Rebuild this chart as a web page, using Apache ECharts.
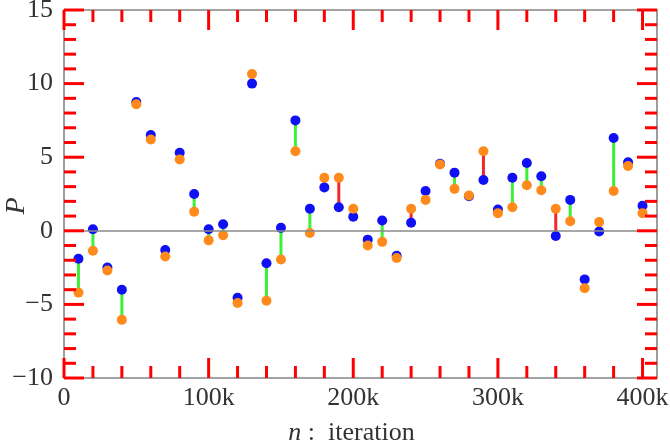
<!DOCTYPE html>
<html>
<head>
<meta charset="utf-8">
<script src="https://cdn.jsdelivr.net/npm/echarts@6/dist/echarts.min.js"></script>
<style>
html,body{margin:0;padding:0;background:#fff;}
#chart{width:670px;height:444px;}
</style>
</head>
<body>
<div id="chart"></div>
<script>
// iterations (x)
const iterations = [10000,20000,30000,40000,50000,60000,70000,80000,90000,100000,
  110000,120000,130000,140000,150000,160000,170000,180000,190000,200000,
  210000,220000,230000,240000,250000,260000,270000,280000,290000,300000,
  310000,320000,330000,340000,350000,360000,370000,380000,390000,400000];
// blue series P values
const blueP = [-1.9,0.1,-2.5,-4.0,8.75,6.5,-1.3,5.3,2.5,0.1,
  0.45,-4.55,10.0,-2.2,0.2,7.5,1.5,2.95,1.6,0.95,
  -0.6,0.7,-1.7,0.55,2.7,4.55,3.95,2.35,3.45,1.45,
  3.6,4.6,3.7,-0.35,2.1,-3.3,-0.05,6.3,4.65,1.7];
// orange series P values
const orangeP = [-4.2,-1.35,-2.7,-6.05,8.6,6.2,-1.75,4.85,1.3,-0.65,
  -0.3,-4.9,10.65,-4.75,-1.95,5.4,-0.15,3.6,3.6,1.5,
  -1.0,-0.75,-1.85,1.5,2.1,4.5,2.85,2.4,5.4,1.2,
  1.6,3.1,2.75,1.5,0.65,-3.9,0.6,2.7,4.4,1.2];
// tick positions
const xMajorTicks = [0,100000,200000,300000,400000];
const xMinorTicks = [20000,40000,60000,80000,120000,140000,160000,180000,
  220000,240000,260000,280000,320000,340000,360000,380000];
const yMajorTicks = [-10,-5,0,5,10,15];
const yMinorTicks = [-9,-8,-7,-6,-4,-3,-2,-1,1,2,3,4,6,7,8,9,11,12,13,14];
const xMax = 410000, xInterval = 100000;
const yMin = -10, yMax = 15, yInterval = 5;

const frameColor = '#858585';
const tickColor = '#ff0000';
const labelFont = 'Liberation Serif';
const labelColor = '#333';
const MAJOR_LEN = 20, MINOR_LEN = 12, TICK_W = 3;

const blueData = iterations.map((x,i)=>[x, blueP[i]]);
const orangeData = iterations.map((x,i)=>[x, orangeP[i]]);
const pairData = iterations.map((x,i)=>[x, blueP[i], orangeP[i]]);

function tickSeries(values, side, len) {
  let data, size, offset;
  if (side === 'bottom') { data = values.map(v=>[v, yMin]); size = [TICK_W, len]; offset = [0, -len/2]; }
  else if (side === 'top') { data = values.map(v=>[v, yMax]); size = [TICK_W, len]; offset = [0, len/2]; }
  else if (side === 'left') { data = values.map(v=>[0, v]); size = [len, TICK_W]; offset = [len/2, 0]; }
  else { data = values.map(v=>[xMax, v]); size = [len, TICK_W]; offset = [-len/2, 0]; }
  return {type:'scatter', data:data, symbol:'rect', symbolSize:size, symbolOffset:offset,
    clip:false, silent:true, z:5, itemStyle:{color:tickColor, opacity:1}};
}
const tickSeriesList = [];
['bottom','top'].forEach(s=>{ tickSeriesList.push(tickSeries(xMajorTicks, s, MAJOR_LEN)); tickSeriesList.push(tickSeries(xMinorTicks, s, MINOR_LEN)); });
['left','right'].forEach(s=>{ tickSeriesList.push(tickSeries(yMajorTicks, s, MAJOR_LEN)); tickSeriesList.push(tickSeries(yMinorTicks, s, MINOR_LEN)); });

const chart = echarts.init(document.getElementById('chart'));
chart.setOption({
  animation:false,
  grid:{left:64, right:13, top:10, bottom:66, containLabel:false, outerBoundsMode:'none',
    show:true, borderColor:frameColor, borderWidth:1.6, backgroundColor:'transparent'},
  xAxis:{
    type:'value', min:0, max:xMax, interval:xInterval,
    axisLine:{show:false, onZero:false}, axisTick:{show:false},
    axisLabel:{show:true, margin:7, color:labelColor, fontFamily:labelFont, fontSize:26,
      formatter:function(v){ if (v % xInterval !== 0) return ''; return v===0 ? '0' : (v/1000)+'k'; }},
    splitLine:{show:false},
    name:'{i|n} :  iteration',
    nameLocation:'middle', nameGap:42, nameMoveOverlap:false,
    nameTextStyle:{color:labelColor, fontFamily:labelFont, fontSize:26, padding:[0,18,0,0],
      rich:{i:{fontFamily:labelFont, fontStyle:'italic', fontSize:26, color:labelColor}}}
  },
  yAxis:{
    type:'value', min:yMin, max:yMax, interval:yInterval,
    axisLine:{show:false, onZero:false}, axisTick:{show:false},
    axisLabel:{show:true, margin:11, color:labelColor, fontFamily:labelFont, fontSize:26,
      formatter:function(v){ return String(v).replace('-', '\u2212'); }},
    splitLine:{show:false},
    name:'P',
    nameLocation:'middle', nameGap:33, nameRotate:90, nameMoveOverlap:false,
    nameTextStyle:{color:labelColor, fontFamily:labelFont, fontStyle:'italic', fontSize:28, padding:[0,24,0,0]}
  },
  series:tickSeriesList.concat([
    {
      type:'custom', data:pairData, z:2,
      encode:{x:0, y:[1,2]},
      renderItem:function(params, api){
        const x = api.value(0), b = api.value(1), o = api.value(2);
        const p1 = api.coord([x,b]), p2 = api.coord([x,o]);
        return {type:'line', shape:{x1:p1[0],y1:p1[1],x2:p2[0],y2:p2[1]},
          style:{stroke: b>=o ? '#3ff03a' : '#f02828', lineWidth:3}};
      },
      markLine:{silent:true, symbol:['none','none'], label:{show:false},
        lineStyle:{color:'#8a8a8a', width:1.6, type:'solid'}, data:[{yAxis:0}]}
    },
    {type:'scatter', data:blueData, symbolSize:10, z:3,
      itemStyle:{color:'#1010f5', opacity:1}},
    {type:'scatter', data:orangeData, symbolSize:10, z:4,
      itemStyle:{color:'#ff8a1c', opacity:1}}
  ])
});
</script>
</body>
</html>
